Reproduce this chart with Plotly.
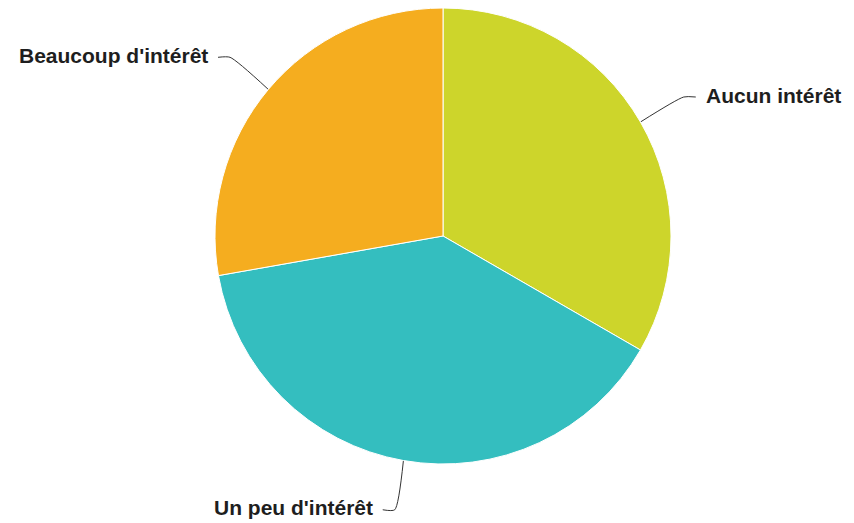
import math
import plotly.graph_objects as go

labels = ["Aucun intérêt", "Un peu d'intérêt", "Beaucoup d'intérêt"]
values = [12, 14, 10]
colors = ["#CDD52B", "#34BEBF", "#F5AD1F"]

W, H = 854, 523
cx, cy, r = 443, 236, 228
dist = 50      # label distance beyond the pie edge
seg = 12       # horizontal connector segment
gap = 8        # gap between connector and text

fig = go.Figure()
fig.add_trace(go.Pie(
    labels=labels, values=values, sort=False, direction="clockwise", rotation=0,
    marker=dict(colors=colors, line=dict(color="white", width=1)),
    textinfo="none", hoverinfo="label+percent", showlegend=False,
    domain=dict(x=[(cx - r) / W, (cx + r) / W], y=[(H - cy - r) / H, (H - cy + r) / H]),
))

total = sum(values)
cum = 0
for lab, v in zip(labels, values):
    mid = (cum + v / 2) / total * 2 * math.pi
    cum += v
    sx, sy = math.sin(mid), math.cos(mid)
    ex, ey = cx + r * sx, cy - r * sy
    ox, oy = cx + (r + dist) * sx, cy - (r + dist) * sy
    side = 1 if sx >= 0 else -1
    hx = ox + side * seg
    fig.add_trace(go.Scatter(
        x=[ex, ox, hx], y=[ey, oy, oy], mode="lines",
        line=dict(color="#333333", width=1, shape="spline", smoothing=0.6),
        hoverinfo="skip", showlegend=False, xaxis="x", yaxis="y",
    ))
    fig.add_annotation(
        x=hx + side * gap, y=oy - 2, xref="x", yref="y", text="<b>" + lab + "</b>", showarrow=False,
        xanchor="left" if side > 0 else "right", yanchor="middle",
        font=dict(family="Liberation Sans, Arial, sans-serif", size=21, color="#1e1e1e"),
    )

fig.update_layout(
    width=W, height=H, margin=dict(l=0, r=0, t=0, b=0),
    paper_bgcolor="white", plot_bgcolor="rgba(0,0,0,0)",
    xaxis=dict(range=[0, W], visible=False, fixedrange=True, domain=[0, 1]),
    yaxis=dict(range=[H, 0], visible=False, fixedrange=True, domain=[0, 1]),
)

fig.write_html("out.html", config={"displayModeBar": False},
               post_script="document.body.style.margin='0';")
